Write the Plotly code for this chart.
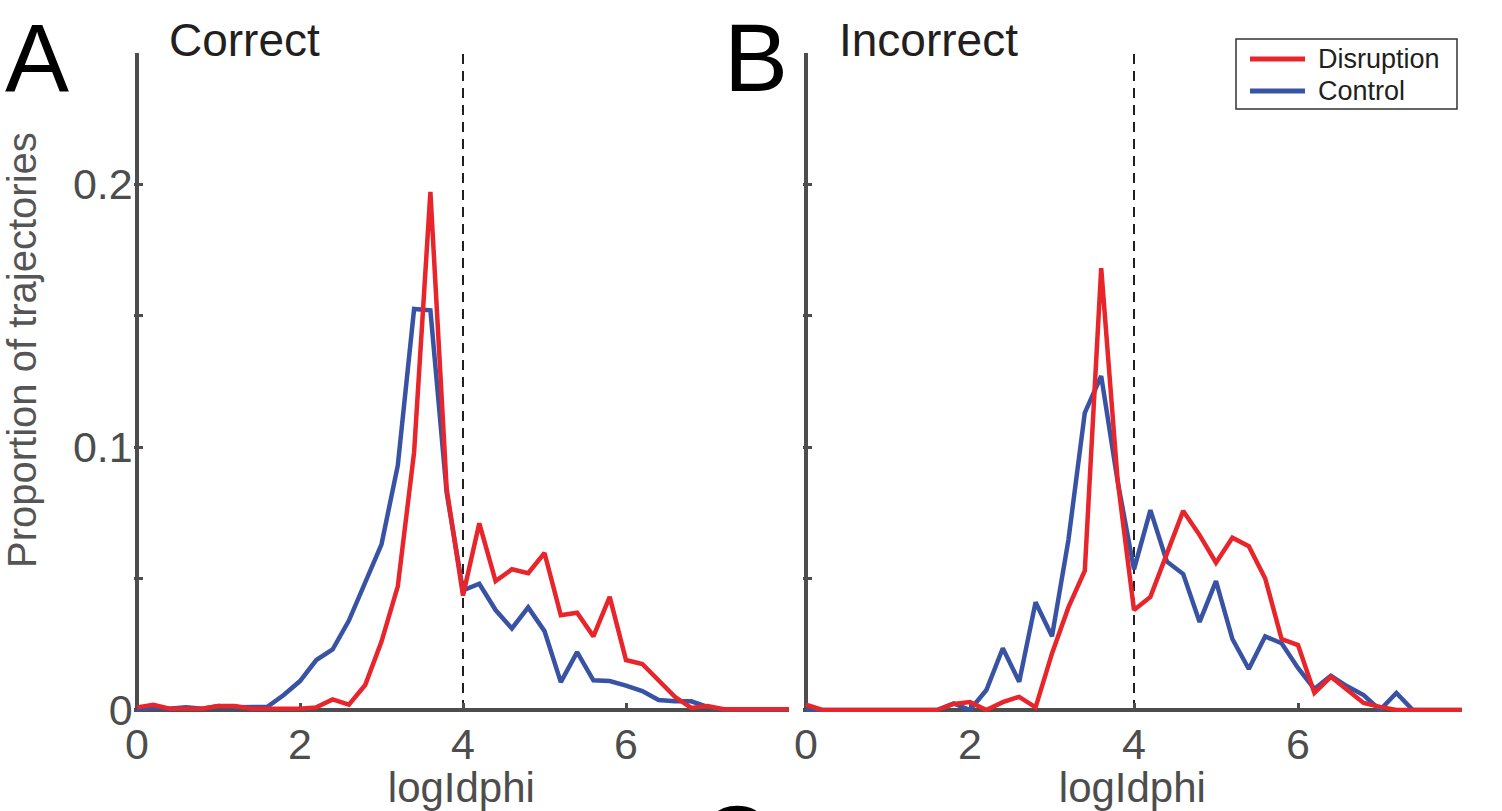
import plotly.graph_objects as go

# ---------------- data ----------------
log_idphi = [0.0, 0.2, 0.4, 0.6, 0.8, 1.0, 1.2, 1.4, 1.6, 1.8,
             2.0, 2.2, 2.4, 2.6, 2.8, 3.0, 3.2, 3.4, 3.6, 3.8,
             4.0, 4.2, 4.4, 4.6, 4.8, 5.0, 5.2, 5.4, 5.6, 5.8,
             6.0, 6.2, 6.4, 6.6, 6.8, 7.0, 7.2, 7.4, 7.6, 7.8, 8.0]

correct_disruption = [0.001, 0.002, 0.0005, 0.0005, 0.0005, 0.0015, 0.0015, 0.0005, 0.0005, 0.0005,
                      0.0005, 0.001, 0.004, 0.002, 0.0095, 0.026, 0.047, 0.098, 0.197, 0.084,
                      0.0435, 0.071, 0.049, 0.0535, 0.052, 0.0597, 0.036, 0.037, 0.028, 0.043,
                      0.019, 0.0175, 0.011, 0.005, 0.0008, 0.0015, 0.0003, 0.0003, 0.0003, 0.0003, 0.0003]

correct_control = [0.0, 0.001, 0.0005, 0.001, 0.0005, 0.0015, 0.001, 0.001, 0.0012, 0.0057,
                   0.011, 0.019, 0.023, 0.034, 0.049, 0.063, 0.093, 0.1525, 0.152, 0.0825,
                   0.0455, 0.048, 0.038, 0.031, 0.039, 0.030, 0.0106, 0.022, 0.0113, 0.011,
                   0.0093, 0.0072, 0.0038, 0.0033, 0.0033, 0.0012, 0.0, 0.0, 0.0, 0.0, 0.0]

incorrect_disruption = [0.002, 0.0, 0.0, 0.0, 0.0, 0.0, 0.0, 0.0, 0.0, 0.0023,
                        0.003, 0.0, 0.003, 0.005, 0.001, 0.0215, 0.039, 0.053, 0.168, 0.0875,
                        0.038, 0.043, 0.059, 0.0757, 0.0665, 0.056, 0.0655, 0.0623, 0.050, 0.027,
                        0.0247, 0.0065, 0.0126, 0.0076, 0.0027, 0.0012, 0.0, 0.0, 0.0, 0.0, 0.0]

incorrect_control = [0.0, 0.0, 0.0, 0.0, 0.0, 0.0, 0.0, 0.0, 0.0, 0.0025,
                     0.0, 0.0076, 0.0235, 0.0107, 0.041, 0.028, 0.0646, 0.113, 0.127, 0.087,
                     0.0535, 0.076, 0.0565, 0.0517, 0.0335, 0.049, 0.027, 0.0156, 0.028, 0.0254,
                     0.016, 0.008, 0.013, 0.009, 0.0057, 0.0, 0.0065, 0.0, 0.0, 0.0, 0.0]

threshold = 4
panel_titles = ["Correct", "Incorrect"]
panel_letters = ["A", "B"]
series_names = ["Disruption", "Control"]
x_tickvals = [0, 2, 4, 6, 8]
x_ticktext = ["0", "2", "4", "6", ""]
y_tickvals = [0, 0.05, 0.1, 0.15, 0.2, 0.25]
y_ticktext = ["0", "", "0.1", "", "0.2", ""]
x_title = "logIdphi"
y_title = "Proportion of trajectories"

# ---------------- style ----------------
W, H = 1502, 811
RED = "#E8252B"
BLUE = "#3953A4"
AX = "#4d4d4d"
TXT = "#231f20"
FONT = "Liberation Sans, Arial, Helvetica, sans-serif"

X_MAX, Y_MAX = 8.0, 0.25
X_PAD, Y_PAD = 0.04, 0.0008


def px_x(p):
    return p / W


def px_y(p):
    return (H - p) / H


# pixel geometry of panels: (x of 0, px per unit)
left_geo = (137.0, 81.5)
right_geo = (806.0, 82.0)
y0_px, y_ppu = 710.0, 2630.0

fig = go.Figure()

panels = [
    ("x", "y", correct_disruption, correct_control),
    ("x2", "y2", incorrect_disruption, incorrect_control),
]
for xa, ya, red_vals, blue_vals in panels:
    fig.add_trace(go.Scatter(x=log_idphi, y=blue_vals, mode="lines", name=series_names[1],
                             line=dict(color=BLUE, width=4.5), xaxis=xa, yaxis=ya,
                             showlegend=False))
    fig.add_trace(go.Scatter(x=log_idphi, y=red_vals, mode="lines", name=series_names[0],
                             line=dict(color=RED, width=4.5), xaxis=xa, yaxis=ya,
                             showlegend=False))


def xdomain(geo):
    x0, ppu = geo
    return [px_x(x0 - X_PAD * ppu), px_x(x0 + X_MAX * ppu)]


ydom = [px_y(y0_px + Y_PAD * y_ppu), px_y(y0_px - Y_MAX * y_ppu)]

common_x = dict(range=[-X_PAD, X_MAX], tickvals=x_tickvals, ticktext=x_ticktext,
                ticks="inside", ticklen=9, tickwidth=3, tickcolor=AX, automargin=False,
                showgrid=False, showline=False, zeroline=True, zerolinecolor=AX,
                zerolinewidth=4, layer="below traces", ticklabelstandoff=3,
                tickfont=dict(family=FONT, size=43, color=AX),
                title=dict(text=x_title, font=dict(family=FONT, size=42, color=AX), standoff=4))
common_y = dict(range=[-Y_PAD, Y_MAX], tickvals=y_tickvals, automargin=False,
                ticks="inside", ticklen=9, tickwidth=3, tickcolor=AX,
                showgrid=False, showline=False, zeroline=True, zerolinecolor=AX,
                zerolinewidth=4, layer="below traces", domain=ydom,
                tickfont=dict(family=FONT, size=43, color=AX))

fig.update_layout(
    template="none",
    width=W, height=H,
    margin=dict(l=0, r=0, t=0, b=0, autoexpand=False),
    paper_bgcolor="white", plot_bgcolor="rgba(0,0,0,0)",
    showlegend=False,
    xaxis=dict(domain=xdomain(left_geo), anchor="y", **common_x),
    xaxis2=dict(domain=xdomain(right_geo), anchor="y2", **common_x),
    yaxis=dict(anchor="x", ticktext=y_ticktext, **common_y),
    yaxis2=dict(anchor="x2", ticktext=[""] * len(y_tickvals), **common_y),
)

# threshold dashed lines
for xa, ya in [("x", "y"), ("x2", "y2")]:
    fig.add_shape(type="line", xref=xa, yref=ya, x0=threshold, x1=threshold, y0=0, y1=Y_MAX,
                  line=dict(color=TXT, width=2, dash="10px,7px"), layer="below")

annotations = []
# panel letters
for letter, xp in zip(panel_letters, [3, 722]):
    annotations.append(dict(text=letter, x=px_x(xp), y=px_y(57), xref="paper", yref="paper",
                            xanchor="left", yanchor="middle", showarrow=False,
                            font=dict(family=FONT, size=96, color="black")))
# cropped next-panel letter at bottom (only its top edge shows in the reference)
annotations.append(dict(text="C", x=px_x(734), y=px_y(839), xref="paper", yref="paper",
                        xanchor="center", yanchor="middle", showarrow=False,
                        font=dict(family=FONT, size=96, color="black")))
# panel titles
for title, xp in zip(panel_titles, [167, 837]):
    annotations.append(dict(text=title, x=px_x(xp), y=px_y(40), xref="paper", yref="paper",
                            xanchor="left", yanchor="middle", showarrow=False,
                            font=dict(family=FONT, size=46, color=TXT)))
# y title
annotations.append(dict(text=y_title, x=px_x(22), y=px_y(350), xref="paper", yref="paper",
                        xanchor="center", yanchor="middle", textangle=-90, showarrow=False,
                        font=dict(family=FONT, size=40, color="#555555")))

# custom legend
leg_box = (1236, 39, 1457, 109)
fig.add_shape(type="rect", xref="paper", yref="paper",
              x0=px_x(leg_box[0]), x1=px_x(leg_box[2]), y0=px_y(leg_box[3]), y1=px_y(leg_box[1]),
              line=dict(color="#333333", width=1.5), fillcolor="white", layer="above")
for name, color, yp in [(series_names[0], RED, 59), (series_names[1], BLUE, 91)]:
    fig.add_shape(type="line", xref="paper", yref="paper",
                  x0=px_x(1250), x1=px_x(1305), y0=px_y(yp), y1=px_y(yp),
                  line=dict(color=color, width=5), layer="above")
    annotations.append(dict(text=name, x=px_x(1316), y=px_y(yp), xref="paper", yref="paper",
                            xanchor="left", yanchor="middle", showarrow=False,
                            font=dict(family=FONT, size=27, color=TXT)))

fig.update_layout(annotations=annotations)

fig.write_html("out.html")
